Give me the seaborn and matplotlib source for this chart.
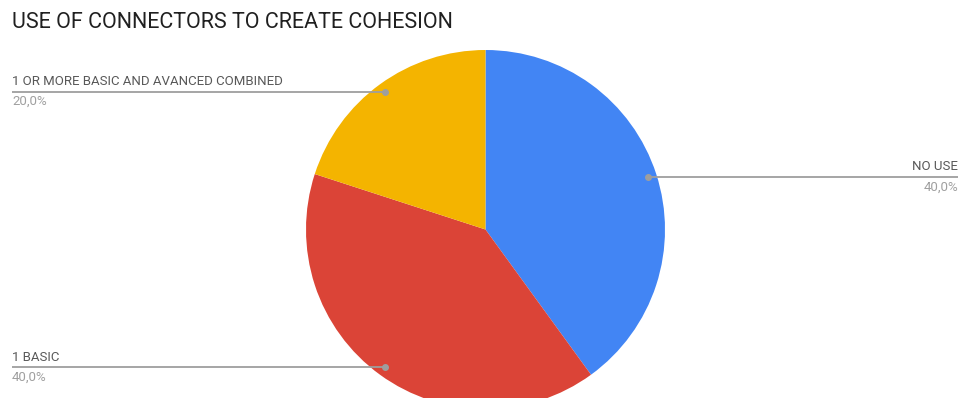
import numpy as np
import matplotlib
matplotlib.use("Agg")
import matplotlib.pyplot as plt
import seaborn as sns

title = "USE OF CONNECTORS TO CREATE COHESION"
categories = ["NO USE", "1 BASIC", "1 OR MORE BASIC AND AVANCED COMBINED"]
values = [40.0, 40.0, 20.0]
colors = ["#4285F4", "#DB4437", "#F4B400"]

sns.set_theme(style="white")
plt.rcParams["font.family"] = ["Roboto", "DejaVu Sans"]

W, H = 960, 398
fig = plt.figure(figsize=(W / 100, H / 100), dpi=100)
ax = fig.add_axes([0, 0, 1, 1])

cx, cy, R = 485.5, H - 229.5, 179.5
wedges, _ = ax.pie(values, colors=colors, startangle=90, counterclock=False,
                   center=(cx, cy), radius=R, frame=True,
                   wedgeprops=dict(linewidth=0))
ax.set_xlim(0, W)
ax.set_ylim(0, H)
ax.set_aspect("auto")
ax.axis("off")

total = sum(values)
for w, cat, v in zip(wedges, categories, values):
    mid = np.deg2rad((w.theta1 + w.theta2) / 2)
    px = cx + 0.95 * R * np.cos(mid)
    py = cy + 0.95 * R * np.sin(mid)
    if px >= cx:
        x_end, ha = 958, "right"
    else:
        x_end, ha = 12, "left"
    ax.plot([px, x_end], [py, py], color="#9e9e9e", lw=1.3, solid_capstyle="butt")
    ax.plot([px], [py], "o", color="#9e9e9e", ms=4)
    pct = f"{100 * v / total:.1f}%".replace(".", ",")
    ax.text(x_end, py + 10, cat, ha=ha, va="center", fontsize=9.5, color="#595959")
    ax.text(x_end, py - 10, pct, ha=ha, va="center", fontsize=9.5, color="#a0a0a0")

fig.text(12 / W, 1 - 22 / H, title, ha="left", va="center", fontsize=15.5, color="#202020")

fig.savefig("out.png", dpi=100)
